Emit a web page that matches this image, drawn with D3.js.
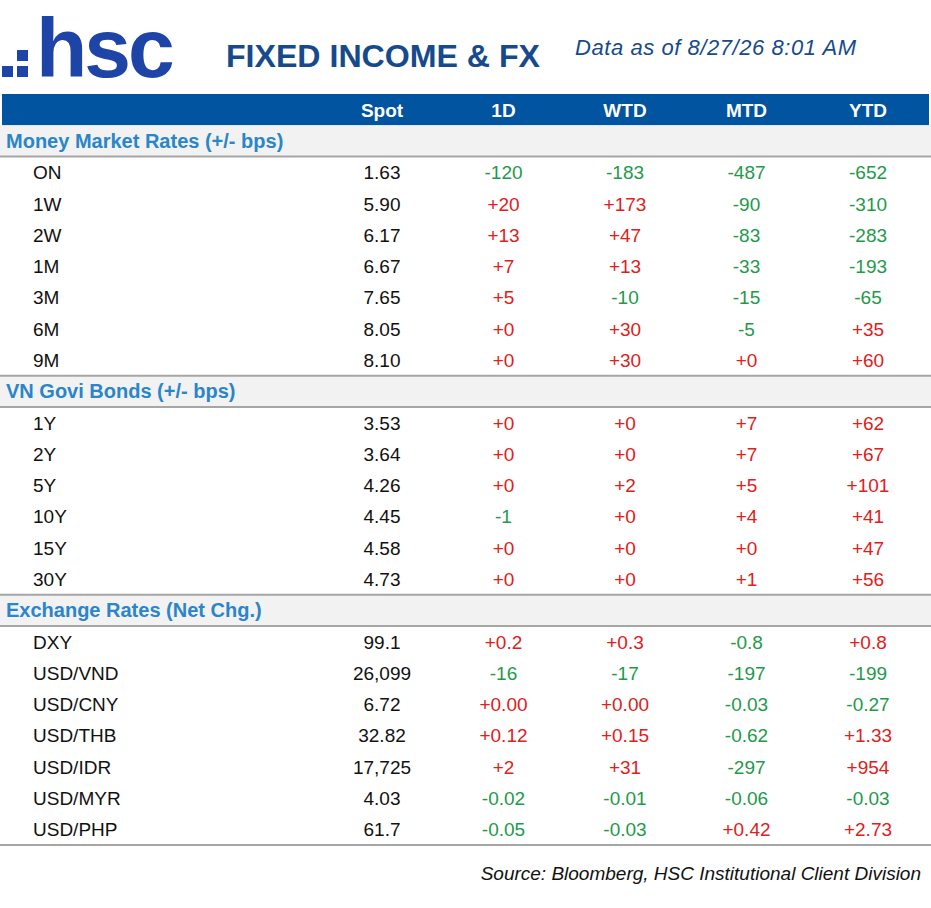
<!DOCTYPE html><html><head><meta charset="utf-8">
<script src="https://cdn.jsdelivr.net/npm/d3@7"></script>
<style>body{margin:0;background:#fff}</style></head><body>
<svg id="c" width="931" height="908"></svg>
<script>
const columns=["Spot","1D","WTD","MTD","YTD"];
const sections=["Money Market Rates (+/- bps)","VN Govi Bonds (+/- bps)","Exchange Rates (Net Chg.)"];
const mmLabels=["ON","1W","2W","1M","3M","6M","9M"];
const mmValues=[["1.63","-120","-183","-487","-652"],["5.90","+20","+173","-90","-310"],["6.17","+13","+47","-83","-283"],["6.67","+7","+13","-33","-193"],["7.65","+5","-10","-15","-65"],["8.05","+0","+30","-5","+35"],["8.10","+0","+30","+0","+60"]];
const bdLabels=["1Y","2Y","5Y","10Y","15Y","30Y"];
const bdValues=[["3.53","+0","+0","+7","+62"],["3.64","+0","+0","+7","+67"],["4.26","+0","+2","+5","+101"],["4.45","-1","+0","+4","+41"],["4.58","+0","+0","+0","+47"],["4.73","+0","+0","+1","+56"]];
const fxLabels=["DXY","USD/VND","USD/CNY","USD/THB","USD/IDR","USD/MYR","USD/PHP"];
const fxValues=[["99.1","+0.2","+0.3","-0.8","+0.8"],["26,099","-16","-17","-197","-199"],["6.72","+0.00","+0.00","-0.03","-0.27"],["32.82","+0.12","+0.15","-0.62","+1.33"],["17,725","+2","+31","-297","+954"],["4.03","-0.02","-0.01","-0.06","-0.03"],["61.7","-0.05","-0.03","+0.42","+2.73"]];

const rows=[{type:"head"}];
[[mmLabels,mmValues],[bdLabels,bdValues],[fxLabels,fxValues]].forEach(([l,v],i)=>{
  rows.push({type:"sec",label:sections[i]});
  l.forEach((n,j)=>rows.push({type:"row",label:n,vals:v[j]}));
});
const svg=d3.select("#c"),F="Liberation Sans, Arial, sans-serif";
const y=d3.scaleBand().domain(d3.range(rows.length)).range([94,845]);
const x=d3.scalePoint().domain(columns).range([382,868]);
const blue="#0054a0";
svg.append("text").attr("x",36).attr("y",77).attr("font-family",F).attr("font-weight","bold").attr("font-size",84).attr("fill","#1e44a8").attr("letter-spacing",-3).text("hsc");
[[2,66],[17,66],[17,50]].forEach(([a,b])=>svg.append("rect").attr("x",a).attr("y",b).attr("width",11).attr("height",11).attr("fill","#1e44a8"));
svg.append("text").attr("x",226).attr("y",67).attr("font-family",F).attr("font-weight","bold").attr("font-size",32).attr("fill","#164a8c").attr("textLength",314).attr("lengthAdjust","spacingAndGlyphs").text("FIXED INCOME & FX");
svg.append("text").attr("x",575).attr("y",55).attr("font-family",F).attr("font-style","italic").attr("font-size",22).attr("fill","#164a8c").attr("textLength",281).text("Data as of  8/27/26 8:01 AM");
rows.forEach((r,i)=>{
  const y0=y(i),h=y.bandwidth(),cy=y0+h/2+7;
  if(r.type==="head"){
    svg.append("rect").attr("x",2).attr("y",y0).attr("width",927).attr("height",h).attr("fill",blue);
    columns.forEach(c=>svg.append("text").attr("x",x(c)).attr("y",cy).attr("text-anchor","middle").attr("font-family",F).attr("font-weight","bold").attr("font-size",19).attr("fill","#fff").text(c));
  } else if(r.type==="sec"){
    svg.append("rect").attr("x",0).attr("y",y0).attr("width",931).attr("height",h).attr("fill","#f2f2f2");
    svg.append("line").attr("x1",0).attr("x2",931).attr("y1",y0+h).attr("y2",y0+h).attr("stroke","#a6a6a6").attr("stroke-width",2);
    if(i>1)svg.append("line").attr("x1",0).attr("x2",931).attr("y1",y0).attr("y2",y0).attr("stroke","#a6a6a6").attr("stroke-width",2);
    svg.append("text").attr("x",6).attr("y",cy).attr("font-family",F).attr("font-weight","bold").attr("font-size",20).attr("fill","#2a85c9").text(r.label);
  } else {
    svg.append("text").attr("x",33).attr("y",cy).attr("font-family",F).attr("font-size",19).attr("fill","#111").text(r.label);
    r.vals.forEach((v,k)=>{
      svg.append("text").attr("x",x(columns[k])).attr("y",cy).attr("text-anchor","middle").attr("font-family",F).attr("font-size",19).attr("fill",k===0?"#111":(v[0]==="+"?"#e02020":"#1e9a4a")).text(v);
    });
  }
});
svg.append("line").attr("x1",0).attr("x2",931).attr("y1",845).attr("y2",845).attr("stroke","#a6a6a6").attr("stroke-width",2);
svg.append("text").attr("x",921).attr("y",880).attr("text-anchor","end").attr("font-family",F).attr("font-style","italic").attr("font-size",19).attr("fill","#111").text("Source: Bloomberg, HSC Institutional Client Division");
</script></body></html>
